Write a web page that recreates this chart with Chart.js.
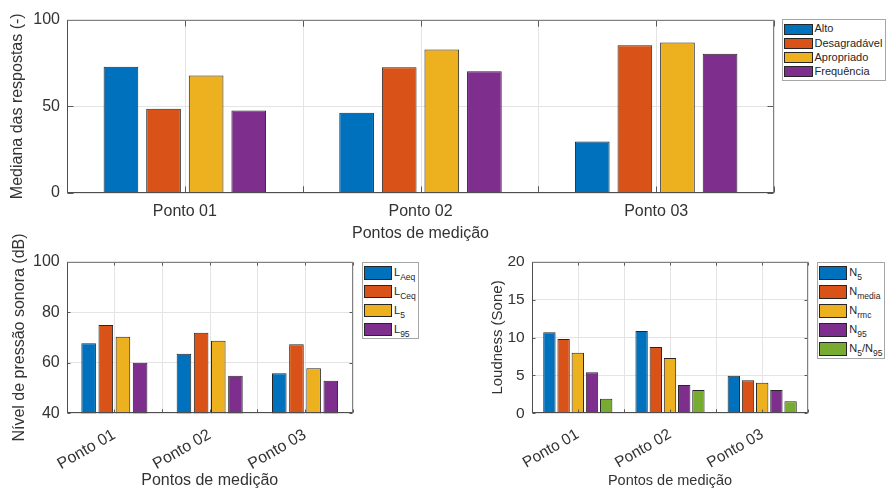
<!DOCTYPE html>
<html><head><meta charset="utf-8">
<script src="https://cdn.jsdelivr.net/npm/chart.js@4"></script>
<style>
html,body{margin:0;padding:0;background:#fff;}
body{width:886px;height:490px;position:relative;overflow:hidden;font-family:"Liberation Sans",Arial,sans-serif;}
canvas{position:absolute;}
.legend{position:absolute;border:1px solid #a6a6a6;background:#fff;box-sizing:border-box;}
.sw{position:absolute;border:1px solid #262626;box-sizing:border-box;}
.lt{position:absolute;font-size:11px;line-height:11px;color:#262626;white-space:nowrap;}
.lt sub{font-size:8.5px;vertical-align:-3.5px;line-height:0;}
</style></head>
<body>
<canvas id="c1" width="886" height="245" style="left:0;top:0;width:886px;height:245px"></canvas>
<canvas id="c2" width="443" height="265" style="left:0;top:225px;width:443px;height:265px"></canvas>
<canvas id="c3" width="443" height="245" style="left:443px;top:245px;width:443px;height:245px"></canvas>
<div id="lg1" class="legend"></div>
<div id="lg2" class="legend"></div>
<div id="lg3" class="legend"></div>
<script>
// ---------------- DATA ----------------
const pontos = ['Ponto 01', 'Ponto 02', 'Ponto 03'];
const xTitle = 'Pontos de medição';

const respostasSeries = ['Alto', 'Desagradável', 'Apropriado', 'Frequência'];
const alto         = [72.7, 46.2, 29.7];
const desagradavel = [48.5, 72.5, 85.2];
const apropriado   = [67.7, 82.7, 86.8];
const frequencia   = [47.5, 70.2, 80.2];
const respostasTicks = [0, 50, 100];

const nivelSeries = ['L<sub>Aeq</sub>', 'L<sub>Ceq</sub>', 'L<sub>5</sub>', 'L<sub>95</sub>'];
const LAeq = [67.7, 63.6, 55.9];
const LCeq = [74.9, 71.9, 67.3];
const L5   = [70.3, 68.7, 57.8];
const L95  = [60.0, 54.9, 52.9];
const nivelTicks = [40, 60, 80, 100];

const loudSeries = ['N<sub>5</sub>', 'N<sub>media</sub>', 'N<sub>rmc</sub>', 'N<sub>95</sub>', 'N<sub>5</sub>/N<sub>95</sub>'];
const N5     = [10.7, 10.86, 4.96];
const Nmedia = [9.8, 8.75, 4.35];
const Nrmc   = [8.0, 7.3, 4.04];
const N95    = [5.4, 3.73, 3.08];
const N5N95  = [1.93, 3.08, 1.58];
const loudTicks = [0, 5, 10, 15, 20];

// ---------------- STYLE ----------------
const colors = ['#0072BD', '#D95319', '#EDB120', '#7E2F8E', '#77AC30'];
const FONT = '"Liberation Sans", Arial, sans-serif';
const TXT = '#333333';

const matlabAxes = {
  id: 'matlabAxes',
  beforeDatasetsDraw(chart, args, opts) {
    const {ctx, chartArea: a, scales: {x}} = chart;
    const n = x.ticks.length;
    const step = x.getPixelForTick(1) - x.getPixelForTick(0);
    ctx.save();
    ctx.strokeStyle = '#e4e4e4'; ctx.lineWidth = 1;
    ctx.beginPath();
    for (let i = 0; i < n; i++) {
      const c = x.getPixelForTick(i);
      for (const px of [c - step / 2, c, c + step / 2]) {
        const p = Math.round(px) + 0.5;
        ctx.moveTo(p, a.top); ctx.lineTo(p, a.bottom);
      }
    }
    ctx.stroke();
    ctx.restore();
  },
  afterDatasetsDraw(chart, args, opts) {
    const {ctx, chartArea: a, scales: {x, y}} = chart;
    const L = opts.tickLen || 4;
    const l = Math.round(a.left) + 0.5, r = Math.round(a.right) - 0.5;
    const t = Math.round(a.top) + 0.5, b = Math.round(a.bottom) - 0.5;
    ctx.save();
    ctx.strokeStyle = '#5a5a5a'; ctx.lineWidth = 1;
    ctx.beginPath();
    y.ticks.forEach(tk => {
      const p = Math.round(y.getPixelForValue(tk.value)) + 0.5;
      ctx.moveTo(l, p); ctx.lineTo(l + L, p);
      ctx.moveTo(r, p); ctx.lineTo(r - L, p);
    });
    const n = x.ticks.length;
    const step = x.getPixelForTick(1) - x.getPixelForTick(0);
    for (let i = 0; i < n; i++) {
      const c = x.getPixelForTick(i);
      for (const px of [c - step / 2, c, c + step / 2]) {
        const p = Math.round(px) + 0.5;
        ctx.moveTo(p, b); ctx.lineTo(p, b - L);
        ctx.moveTo(p, t); ctx.lineTo(p, t + L);
      }
    }
    ctx.stroke();
    ctx.strokeStyle = '#808080';
    ctx.strokeRect(l, t, r - l, b - t);
    ctx.beginPath();
    ctx.strokeStyle = '#4d4d4d';
    ctx.moveTo(l, b); ctx.lineTo(r, b);
    ctx.moveTo(l, t); ctx.lineTo(l, b);
    ctx.stroke();
    ctx.restore();
  }
};

function makeDatasets(labels, series, cat, bar) {
  return series.map((d, i) => ({
    label: labels[i], data: d,
    backgroundColor: colors[i], borderColor: '#262626', borderWidth: 1,
    categoryPercentage: cat, barPercentage: bar
  }));
}

function makeChart(id, cfg) {
  return new Chart(document.getElementById(id), {
    type: 'bar',
    data: { labels: pontos, datasets: makeDatasets(cfg.labels, cfg.series, cfg.cat, cfg.bar) },
    plugins: [matlabAxes],
    options: {
      responsive: false, animation: false, devicePixelRatio: 1,
      layout: { padding: cfg.pad },
      plugins: { legend: { display: false }, tooltip: { enabled: false }, matlabAxes: { tickLen: cfg.tickLen } },
      scales: {
        x: {
          offset: true,
          grid: { display: false },
          border: { display: false },
          ticks: { color: TXT, font: { family: FONT, size: cfg.tickSize }, padding: cfg.xPad,
                    minRotation: cfg.rot, maxRotation: cfg.rot, autoSkip: false },
          title: { display: true, text: xTitle, color: TXT, padding: 0,
                   font: { family: FONT, size: cfg.xTitleSize, lineHeight: 1 } },
          afterFit: s => { s.height = cfg.xH; }
        },
        y: {
          min: cfg.ticks[0], max: cfg.ticks[cfg.ticks.length - 1],
          afterBuildTicks: s => { s.ticks = cfg.ticks.map(v => ({ value: v })); },
          grid: { color: '#e4e4e4', drawTicks: false },
          border: { display: false },
          ticks: { color: TXT, font: { family: FONT, size: cfg.tickSize }, padding: 7 },
          title: { display: true, text: cfg.yTitle, color: TXT, padding: 0,
                   font: { family: FONT, size: cfg.yTitleSize, lineHeight: 1 } },
          afterFit: s => { s.width = cfg.yW; }
        }
      }
    }
  });
}

makeChart('c1', {
  labels: respostasSeries, series: [alto, desagradavel, apropriado, frequencia],
  cat: 0.723, bar: 0.814, pad: { left: 10, right: 112, top: 19.5, bottom: 3 },
  tickLen: 6, tickSize: 16, xPad: 1, rot: 0, xTitleSize: 16, xH: 49,
  ticks: respostasTicks, yTitle: 'Mediana das respostas (-)', yTitleSize: 16, yW: 57
});
makeChart('c2', {
  labels: nivelSeries, series: [LAeq, LCeq, L5, L95],
  cat: 0.72, bar: 0.85, pad: { left: 12, right: 90.3, top: 36.7, bottom: 1 },
  tickLen: 3, tickSize: 16, xPad: 4, rot: 30, xTitleSize: 16, xH: 75.7,
  ticks: nivelTicks, yTitle: 'Nível de pressão sonora (dB)', yTitleSize: 16, yW: 54.7
});
makeChart('c3', {
  labels: loudSeries, series: [N5, Nmedia, Nrmc, N95, N5N95],
  cat: 0.77, bar: 0.87, pad: { left: 47.5, right: 77.7, top: 16.7, bottom: 1.75 },
  tickLen: 3, tickSize: 15.5, xPad: 4, rot: 30, xTitleSize: 14.5, xH: 74.95,
  ticks: loudTicks, yTitle: 'Loudness (Sone)', yTitleSize: 15, yW: 41.2
});

// ---------------- HTML LEGENDS ----------------
function legend(id, labels, g) {
  const el = document.getElementById(id);
  Object.assign(el.style, { left: g.left + 'px', top: g.top + 'px', width: g.w + 'px', height: g.h + 'px' });
  labels.forEach((lab, i) => {
    const sw = document.createElement('div');
    sw.className = 'sw';
    const top = g.first + i * g.step;
    Object.assign(sw.style, { left: g.swL + 'px', top: top + 'px', width: g.swW + 'px', height: g.swH + 'px', background: colors[i] });
    el.appendChild(sw);
    const t = document.createElement('div');
    t.className = 'lt';
    t.innerHTML = lab;
    Object.assign(t.style, { left: (g.swL + g.swW + 2) + 'px', top: (top + g.swH / 2 - 5.8) + 'px' });
    el.appendChild(t);
  });
}
legend('lg1', respostasSeries, { left: 782, top: 19, w: 103.5, h: 61.5, first: 3.5, step: 14.3, swL: 1, swW: 28.5, swH: 11 });
legend('lg2', nivelSeries, { left: 361.5, top: 261.5, w: 57, h: 77.5, first: 3.5, step: 18.9, swL: 1, swW: 28.5, swH: 13.5 });
legend('lg3', loudSeries, { left: 816.8, top: 261.5, w: 68.5, h: 97, first: 3.5, step: 19, swL: 1, swW: 28.5, swH: 13.5 });
</script>
</body></html>
